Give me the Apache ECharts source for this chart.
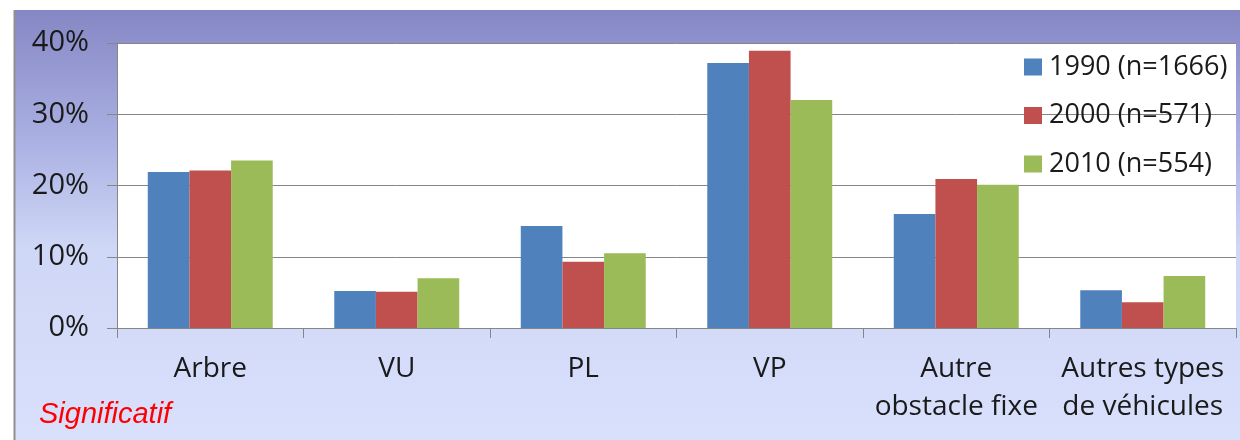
<!DOCTYPE html>
<html>
<head>
<meta charset="utf-8">
<script src="https://cdn.jsdelivr.net/npm/echarts@6/dist/echarts.min.js"></script>
<style>
  html, body { margin: 0; padding: 0; background: #fff; }
  #chart { width: 1240px; height: 440px; }
</style>
</head>
<body>
<div id="chart"></div>
<script>
const categories = ['Arbre', 'VU', 'PL', 'VP', 'Autre\nobstacle fixe', 'Autres types\nde véhicules'];
const seriesNames = ['1990 (n=1666)', '2000 (n=571)', '2010 (n=554)'];
const values1990 = [21.9, 5.2, 14.3, 37.2, 16.0, 5.3];
const values2000 = [22.1, 5.1, 9.3, 38.9, 20.9, 3.6];
const values2010 = [23.5, 7.0, 10.5, 32.0, 20.1, 7.3];
const yTicks = [0, 10, 20, 30, 40];

const colors = ['#4f81bd', '#c0504d', '#9bbb59'];
const textColor = '#1a1a1a';
const fontName = '"Open Sans", sans-serif';

const chart = echarts.init(document.getElementById('chart'));

const allValues = [values1990, values2000, values2010];

chart.setOption({
    animation: false,
    color: colors,
    graphic: [
        {
            type: 'rect',
            z: -10,
            shape: { x: 14, y: 10, width: 1226, height: 430 },
            style: {
                fill: new echarts.graphic.LinearGradient(0, 0, 0, 1, [
                    { offset: 0, color: '#8587c4' },
                    { offset: 0.3, color: '#aab0e2' },
                    { offset: 0.55, color: '#cfd7f6' },
                    { offset: 1, color: '#d8e0fc' }
                ])
            }
        },
        {
            type: 'line',
            z: -9,
            shape: { x1: 14.5, y1: 10, x2: 14.5, y2: 440 },
            style: { stroke: '#8f8f8f', lineWidth: 2 }
        },
        {
            type: 'text',
            left: 39,
            top: 400,
            style: {
                text: 'Significatif',
                fill: '#ff0000',
                font: 'italic 29px "Liberation Sans", Arial, sans-serif'
            }
        }
    ],
    grid: {
        left: 117,
        right: 4,
        top: 43,
        bottom: 112,
        show: true,
        backgroundColor: '#ffffff',
        borderWidth: 0
    },
    legend: {
        orient: 'vertical',
        left: 1019,
        top: 47,
        itemWidth: 18,
        itemHeight: 17,
        itemGap: 18.5,
        icon: 'rect',
        textStyle: { fontFamily: fontName, fontSize: 27, lineHeight: 30, color: textColor, padding: [0, 0, 0, 2] },
        data: seriesNames
    },
    xAxis: {
        type: 'category',
        data: categories,
        axisLine: { show: true, lineStyle: { color: '#868686', width: 1 } },
        axisTick: { show: true, length: 10, alignWithLabel: false, lineStyle: { color: '#868686' } },
        axisLabel: {
            interval: 0,
            margin: 22,
            fontFamily: fontName,
            fontSize: 28,
            lineHeight: 38,
            color: textColor
        }
    },
    yAxis: {
        type: 'value',
        min: yTicks[0],
        max: yTicks[yTicks.length - 1],
        interval: 10,
        axisLine: { show: true, lineStyle: { color: '#868686', width: 1 } },
        axisTick: { show: true, length: 10, lineStyle: { color: '#868686' } },
        splitLine: { show: true, lineStyle: { color: '#868686', width: 1 } },
        axisLabel: {
            margin: 28,
            fontFamily: fontName,
            fontSize: 29,
            color: textColor,
            formatter: v => v + '%'
        }
    },
    series: seriesNames.map((name, i) => ({
        name: name,
        type: 'bar',
        data: allValues[i],
        barGap: '0%',
        barCategoryGap: '33%'
    }))
});
</script>
</body>
</html>
